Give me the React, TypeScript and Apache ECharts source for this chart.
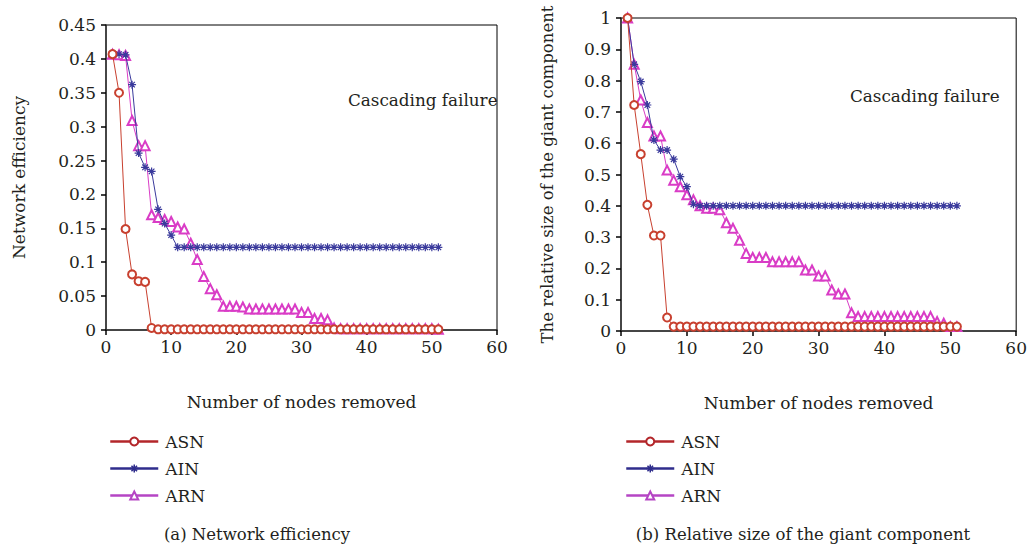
import React, { useEffect, useRef } from "react";
import * as echarts from "echarts";

// Number of nodes removed (x positions shared by every series)
const nodesRemoved = [
  1, 2, 3, 4, 5, 6, 7, 8, 9, 10, 11, 12, 13, 14, 15, 16, 17, 18, 19, 20,
  21, 22, 23, 24, 25, 26, 27, 28, 29, 30, 31, 32, 33, 34, 35, 36, 37, 38, 39, 40,
  41, 42, 43, 44, 45, 46, 47, 48, 49, 50, 51,
];

// (a) Network efficiency
const effASN = [
  0.407, 0.35, 0.149, 0.082, 0.072, 0.071, 0.003, 0.001, 0.001, 0.001,
  0.001, 0.001, 0.001, 0.001, 0.001, 0.001, 0.001, 0.001, 0.001, 0.001,
  0.001, 0.001, 0.001, 0.001, 0.001, 0.001, 0.001, 0.001, 0.001, 0.001,
  0.001, 0.001, 0.001, 0.001, 0.001, 0.001, 0.001, 0.001, 0.001, 0.001,
  0.001, 0.001, 0.001, 0.001, 0.001, 0.001, 0.001, 0.001, 0.001, 0.001,
  0.001,
];
const effAIN = [
  0.408, 0.407, 0.406, 0.362, 0.261, 0.24, 0.234, 0.178, 0.157, 0.14,
  0.122, 0.122, 0.122, 0.122, 0.122, 0.122, 0.122, 0.122, 0.122, 0.122,
  0.122, 0.122, 0.122, 0.122, 0.122, 0.122, 0.122, 0.122, 0.122, 0.122,
  0.122, 0.122, 0.122, 0.122, 0.122, 0.122, 0.122, 0.122, 0.122, 0.122,
  0.122, 0.122, 0.122, 0.122, 0.122, 0.122, 0.122, 0.122, 0.122, 0.122,
  0.122,
];
const effARN = [
  0.407, 0.406, 0.405, 0.309, 0.272, 0.272, 0.17, 0.166, 0.163, 0.16,
  0.152, 0.149, 0.128, 0.104, 0.079, 0.061, 0.052, 0.035, 0.035, 0.035,
  0.034, 0.031, 0.031, 0.031, 0.031, 0.031, 0.031, 0.031, 0.031, 0.026,
  0.026, 0.017, 0.017, 0.015, 0.003, 0.002, 0.002, 0.002, 0.002, 0.002,
  0.002, 0.002, 0.002, 0.002, 0.002, 0.002, 0.002, 0.002, 0.002, 0.002,
  0.001,
];

// (b) Relative size of the giant component
const gcASN = [
  1.0, 0.722, 0.565, 0.403, 0.305, 0.305, 0.043, 0.014, 0.014, 0.014,
  0.014, 0.014, 0.014, 0.014, 0.014, 0.014, 0.014, 0.014, 0.014, 0.014,
  0.014, 0.014, 0.014, 0.014, 0.014, 0.014, 0.014, 0.014, 0.014, 0.014,
  0.014, 0.014, 0.014, 0.014, 0.014, 0.014, 0.014, 0.014, 0.014, 0.014,
  0.014, 0.014, 0.014, 0.014, 0.014, 0.014, 0.014, 0.014, 0.014, 0.014,
  0.014,
];
const gcAIN = [
  1.0, 0.852, 0.797, 0.722, 0.61, 0.578, 0.578, 0.549, 0.493, 0.461,
  0.405, 0.4, 0.4, 0.4, 0.4, 0.4, 0.4, 0.4, 0.4, 0.4,
  0.4, 0.4, 0.4, 0.4, 0.4, 0.4, 0.4, 0.4, 0.4, 0.4,
  0.4, 0.4, 0.4, 0.4, 0.4, 0.4, 0.4, 0.4, 0.4, 0.4,
  0.4, 0.4, 0.4, 0.4, 0.4, 0.4, 0.4, 0.4, 0.4, 0.4,
  0.4,
];
const gcARN = [
  1.0, 0.852, 0.738, 0.666, 0.623, 0.623, 0.514, 0.482, 0.461, 0.435,
  0.419, 0.4, 0.392, 0.392, 0.387, 0.346, 0.328, 0.29, 0.248, 0.235,
  0.235, 0.235, 0.221, 0.221, 0.221, 0.221, 0.221, 0.195, 0.195, 0.176,
  0.176, 0.131, 0.118, 0.118, 0.058, 0.046, 0.046, 0.046, 0.046, 0.046,
  0.046, 0.046, 0.046, 0.046, 0.046, 0.046, 0.046, 0.03, 0.025, 0.014,
  0.014,
];

const seriesNames = ["ASN", "AIN", "ARN"];
const xTickStep = 10;

const FONT = "'DejaVu Serif', 'Liberation Serif', serif";
const TEXT = "#231f20";
const COLORS = { ASN: "#c8402f", AIN: "#3a3a9c", ARN: "#d93cc6" };
const LEGEND_COLORS = { ASN: "#b3262a", AIN: "#2f2d8c", ARN: "#b545c4" };
const ASTERISK =
  "path://M5 0L5 10M0 5L10 5M1.5 1.5L8.5 8.5M8.5 1.5L1.5 8.5";

const pairs = (ys: number[]) => nodesRemoved.map((x, i) => [x, ys[i]]);

const markerStyles = [
  { symbol: "emptyCircle", symbolSize: 8, color: COLORS.ASN, stroke: false },
  { symbol: ASTERISK, symbolSize: 8, color: COLORS.AIN, stroke: true },
  { symbol: "emptyTriangle", symbolSize: 9, color: COLORS.ARN, stroke: false },
];

function makeSeries(gridIdx: number, data: number[][][]) {
  return seriesNames.map((name, k) => {
    const m = markerStyles[k];
    return {
      type: "line",
      name,
      xAxisIndex: gridIdx,
      yAxisIndex: gridIdx,
      data: data[k],
      symbol: m.symbol,
      symbolSize: m.symbolSize,
      showAllSymbol: true,
      lineStyle: { color: m.color, width: 1 },
      itemStyle: m.stroke
        ? { color: m.color, borderColor: m.color, borderWidth: 1.2 }
        : { color: m.color, borderWidth: 1 },
      z: 3 - k,
    };
  });
}

function axisCommon() {
  return {
    axisLine: { show: true, lineStyle: { color: "#333", width: 1.5 } },
    axisTick: { show: true, inside: false, length: 5, lineStyle: { color: "#000", width: 1.5 } },
    axisLabel: { color: TEXT, fontFamily: FONT, fontSize: 17, margin: 10 },
    splitLine: { show: false },
    nameTextStyle: { color: TEXT, fontFamily: FONT, fontSize: 17 },
  };
}

export default function App() {
  const ref = useRef<HTMLDivElement>(null);

  useEffect(() => {
    if (!ref.current) return;
    const chart = echarts.init(ref.current, undefined, { renderer: "svg" });

    const legendData = seriesNames.map((name) => {
      const c = LEGEND_COLORS[name as keyof typeof LEGEND_COLORS];
      return {
        name,
        itemStyle: { color: c, borderColor: c, borderWidth: 1.5 },
        lineStyle: { color: c, width: 2.5 },
      };
    });

    const option = {
      animation: false,
      backgroundColor: "#ffffff",
      grid: [
        { left: 106, top: 25, width: 391, height: 305, show: true, borderColor: "#000", borderWidth: 1 },
        { left: 621, top: 18, width: 396, height: 313, show: true, borderColor: "#000", borderWidth: 1 },
      ],
      xAxis: [0, 1].map((g) => ({
        type: "value",
        gridIndex: g,
        min: 0,
        max: 60,
        interval: xTickStep,
        name: "Number of nodes removed",
        nameLocation: "middle",
        nameGap: 63,
        ...axisCommon(),
        axisLabel: { color: TEXT, fontFamily: FONT, fontSize: 17, margin: 8 },
      })),
      yAxis: [
        {
          type: "value",
          gridIndex: 0,
          min: 0,
          max: 0.45,
          interval: 0.05,
          name: "Network efficiency",
          nameLocation: "middle",
          nameGap: 79,
          ...axisCommon(),
        },
        {
          type: "value",
          gridIndex: 1,
          min: 0,
          max: 1,
          interval: 0.1,
          name: "The relative size of the giant component",
          nameLocation: "middle",
          nameGap: 65,
          ...axisCommon(),
          nameTextStyle: { color: TEXT, fontFamily: FONT, fontSize: 16.5 },
        },
      ],
      legend: [
        { left: 104, top: 428 },
        { left: 620, top: 428 },
      ].map((pos) => ({
        ...pos,
        orient: "vertical",
        data: legendData,
        itemWidth: 48,
        itemHeight: 10,
        itemGap: 10,
        selectedMode: false,
        textStyle: { color: TEXT, fontFamily: FONT, fontSize: 17, padding: [0, 0, 0, 2] },
      })),
      graphic: [
        {
          type: "text",
          left: 348,
          top: 91,
          style: { text: "Cascading failure", fill: TEXT, font: `16.8px ${FONT}` },
        },
        {
          type: "text",
          left: 850,
          top: 87,
          style: { text: "Cascading failure", fill: TEXT, font: `16.8px ${FONT}` },
        },
        {
          type: "text",
          x: 257,
          y: 534,
          style: {
            text: "(a) Network efficiency",
            fill: TEXT,
            font: `16.5px ${FONT}`,
            textAlign: "center",
            textVerticalAlign: "middle",
          },
        },
        {
          type: "text",
          x: 803,
          y: 534,
          style: {
            text: "(b) Relative size of the giant component",
            fill: TEXT,
            font: `16.5px ${FONT}`,
            textAlign: "center",
            textVerticalAlign: "middle",
          },
        },
      ],
      series: [
        ...makeSeries(0, [pairs(effASN), pairs(effAIN), pairs(effARN)]),
        ...makeSeries(1, [pairs(gcASN), pairs(gcAIN), pairs(gcARN)]),
      ],
    };

    chart.setOption(option as any);
    return () => chart.dispose();
  }, []);

  return (
    <div
      ref={ref}
      style={{ position: "fixed", left: 0, top: 0, width: 1030, height: 549, background: "#fff" }}
    />
  );
}
